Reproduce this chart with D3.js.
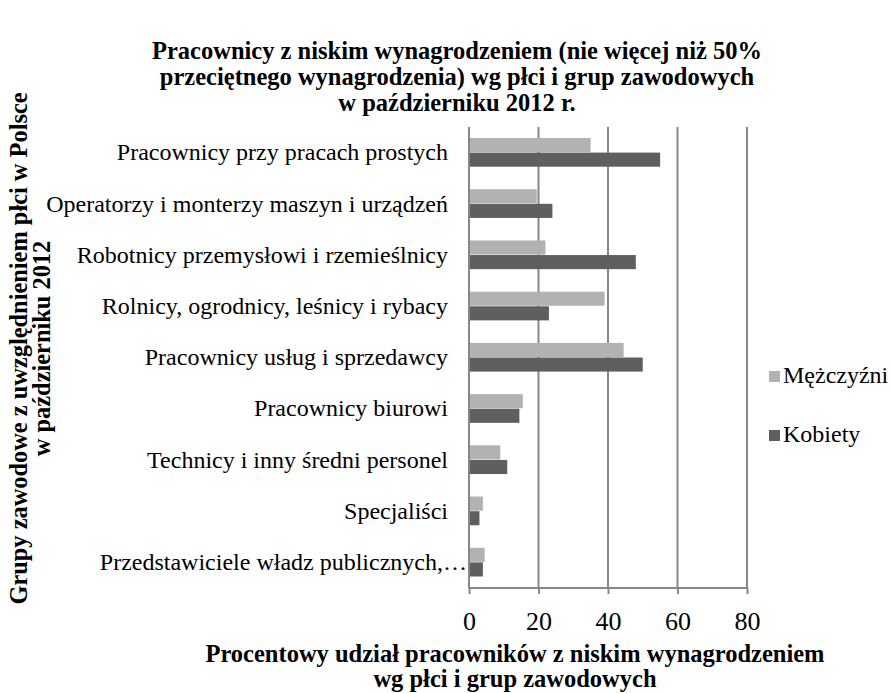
<!DOCTYPE html>
<meta charset="utf-8">
<style>
body {
  margin: 0;
  background-color: #ffffff;
}
text {
  font-family: 'Liberation Serif', 'Times New Roman', serif;
  fill: #000000;
}
.grid line {
  stroke: #878787;
  stroke-width: 2px;
}
.axis path,
.axis line {
  fill: none;
  stroke: #878787;
  stroke-width: 2px;
}
</style>
<svg width="891" height="693"></svg>
<script src="https://d3js.org/d3.v7.min.js"></script>
<script>
var categories = [
  "Pracownicy przy pracach prostych",
  "Operatorzy i monterzy maszyn i urządzeń",
  "Robotnicy przemysłowi i rzemieślnicy",
  "Rolnicy, ogrodnicy, leśnicy i rybacy",
  "Pracownicy usług i sprzedawcy",
  "Pracownicy biurowi",
  "Technicy i inny średni personel",
  "Specjaliści",
  "Przedstawiciele władz publicznych,…"
];
var men   = [35, 19.5, 22, 39, 44.5, 15.5, 9, 4, 4.5];
var women = [55, 24, 48, 23, 50, 14.5, 11, 3, 4];
var seriesNames = ["Mężczyźni", "Kobiety"];
var seriesColors = ["#b2b2b2", "#5f5f5f"];
var xTicks = [0, 20, 40, 60, 80];

var titleLines = [
  "Pracownicy z niskim wynagrodzeniem (nie więcej niż 50%",
  "przeciętnego wynagrodzenia) wg płci i grup zawodowych",
  "w październiku 2012 r."
];
var xTitleLines = [
  "Procentowy udział pracowników z niskim wynagrodzeniem",
  "wg płci i grup zawodowych"
];
var yTitleLines = [
  "Grupy zawodowe z uwzględnieniem płci w Polsce",
  "w październiku 2012"
];

var svg = d3.select("svg"),
    margin = {top: 127, right: 144, bottom: 105, left: 469},
    width = +svg.attr("width") - margin.left - margin.right,
    height = +svg.attr("height") - margin.top - margin.bottom;

var x = d3.scaleLinear().domain([0, 80]).range([0, width]);
var y = d3.scaleBand().domain(categories).range([0, height]).paddingInner(0.43).paddingOuter(0.215);
var ySub = d3.scaleBand().domain(seriesNames).range([0, y.bandwidth()]);

var g = svg.append("g")
    .attr("transform", "translate(" + margin.left + "," + margin.top + ")");

// gridlines
g.append("g")
    .attr("class", "grid")
  .selectAll("line")
  .data(xTicks)
  .enter().append("line")
    .attr("x1", function(d) { return x(d); })
    .attr("x2", function(d) { return x(d); })
    .attr("y1", 0)
    .attr("y2", height);

g.append("g")
    .attr("class", "x axis")
    .attr("transform", "translate(0," + height + ")")
    .call(d3.axisBottom(x).tickValues(xTicks).tickSize(6).tickPadding(18))
    .call(function(a) {
      a.select(".domain").attr("d", "M0,0H" + width);
      a.selectAll("text").style("font-size", "26px").attr("fill", "#000");
    });

// category labels (Excel pushes the truncated one a bit to the right)
g.selectAll(".cat")
    .data(categories)
  .enter().append("text")
    .attr("class", "cat")
    .attr("x", function(d) { return d.slice(-1) === "…" ? -2 : -21; })
    .attr("y", function(d) { return y(d) + y.bandwidth() / 2; })
    .attr("dy", "0.32em")
    .attr("text-anchor", "end")
    .style("font-size", "24px")
    .text(function(d) { return d; });

var rows = categories.map(function(c, i) { return {cat: c, values: [men[i], women[i]]}; });

var grp = g.selectAll(".grp")
    .data(rows)
  .enter().append("g")
    .attr("class", "grp")
    .attr("transform", function(d) { return "translate(0," + y(d.cat) + ")"; });

grp.selectAll("rect")
    .data(function(d) { return d.values.map(function(v, j) { return {name: seriesNames[j], value: v, i: j}; }); })
  .enter().append("rect")
    .attr("x", 1)
    .attr("y", function(d) { return ySub(d.name); })
    .attr("height", ySub.bandwidth() - 0.5)
    .attr("width", function(d) { return x(d.value) - 1; })
    .attr("fill", function(d) { return seriesColors[d.i]; });

// title
svg.append("text")
    .attr("x", 457)
    .attr("y", 59)
    .attr("text-anchor", "middle")
    .style("font-size", "24.5px")
    .style("font-weight", "bold")
  .selectAll("tspan")
  .data(titleLines)
  .enter().append("tspan")
    .attr("x", 457)
    .attr("dy", function(d, i) { return i ? 26 : 0; })
    .text(function(d) { return d; });

// x axis title
svg.append("text")
    .attr("x", 515)
    .attr("y", 662)
    .attr("text-anchor", "middle")
    .style("font-size", "24.5px")
    .style("font-weight", "bold")
  .selectAll("tspan")
  .data(xTitleLines)
  .enter().append("tspan")
    .attr("x", 515)
    .attr("dy", function(d, i) { return i ? 25 : 0; })
    .text(function(d) { return d; });

// y axis title
svg.append("text")
    .attr("transform", "translate(27," + (margin.top + height / 2 - 9) + ") rotate(-90)")
    .attr("text-anchor", "middle")
    .style("font-size", "24.4px")
    .style("font-weight", "bold")
  .selectAll("tspan")
  .data(yTitleLines)
  .enter().append("tspan")
    .attr("x", 0)
    .attr("dy", function(d, i) { return i ? 23 : 0; })
    .text(function(d) { return d; });

// legend
var legend = svg.append("g")
    .attr("transform", "translate(769,371)");

var li = legend.selectAll(".li")
    .data(seriesNames)
  .enter().append("g")
    .attr("class", "li")
    .attr("transform", function(d, i) { return "translate(0," + i * 59 + ")"; });

li.append("rect")
    .attr("width", 11)
    .attr("height", 11)
    .attr("fill", function(d, i) { return seriesColors[i]; });

li.append("text")
    .attr("x", 14)
    .attr("y", 12)
    .style("font-size", "24px")
    .text(function(d) { return d; });
</script>
